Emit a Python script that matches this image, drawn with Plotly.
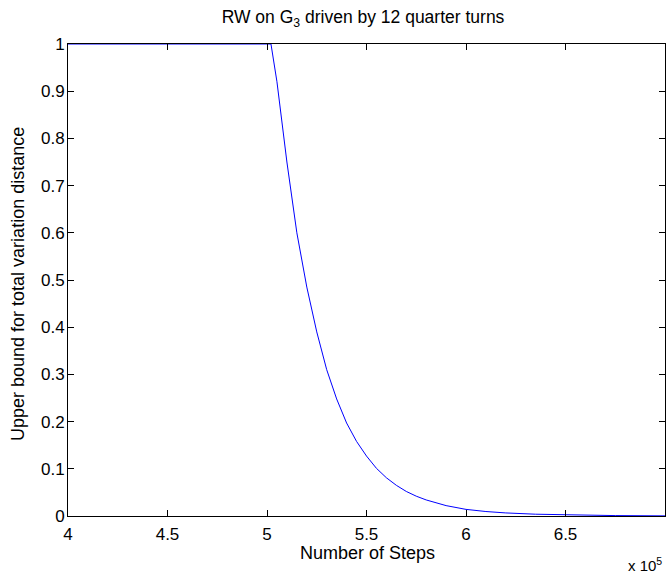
import plotly.graph_objects as go

# Data (steps, upper bound on total variation distance)
steps = [400000, 450000, 500000, 502000, 505000, 510000, 515000, 520000, 525000,
         530000, 535000, 540000, 545000, 550000, 555000, 560000, 565000, 570000,
         575000, 580000, 590000, 600000, 610000, 620000, 635000, 650000, 675000, 700000]
bound = [1.0, 1.0, 1.0, 1.0, 0.92, 0.75, 0.60, 0.485, 0.39,
         0.31, 0.248, 0.197, 0.158, 0.127, 0.101, 0.081, 0.065, 0.052,
         0.042, 0.034, 0.022, 0.014, 0.0095, 0.0065, 0.0038, 0.0022, 0.0009, 0.0003]

x_tickvals = [400000, 450000, 500000, 550000, 600000, 650000, 700000]
x_ticktext = ["4", "4.5", "5", "5.5", "6", "6.5", "7"]
y_tickvals = [0, 0.1, 0.2, 0.3, 0.4, 0.5, 0.6, 0.7, 0.8, 0.9, 1]
y_ticktext = ["0", "0.1", "0.2", "0.3", "0.4", "0.5", "0.6", "0.7", "0.8", "0.9", "1"]

FONT = "Liberation Sans, Arial, sans-serif"
FS = 17
W, H = 666, 573
L, R, T, B = 68, 1, 44, 57

fig = go.Figure()
fig.add_trace(go.Scatter(x=steps, y=bound, mode="lines",
                         line=dict(color="#0000ff", width=1),
                         showlegend=False, hoverinfo="skip"))

axis_common = dict(showgrid=False, zeroline=False, showline=True, linecolor="black",
                   linewidth=1, mirror="ticks", ticks="inside", ticklen=6,
                   tickcolor="black", tickfont=dict(family=FONT, size=FS, color="black"))

fig.update_layout(
    width=W, height=H,
    margin=dict(l=L, r=R, t=T, b=B),
    paper_bgcolor="white", plot_bgcolor="white",
    font=dict(family=FONT, color="black"),
    title=dict(text="RW on G<sub>3</sub> driven by 12 quarter turns",
               x=363 / W, xanchor="center", y=1 - 17 / H, yanchor="middle",
               font=dict(family=FONT, size=17.5, color="black")),
    xaxis=dict(range=[400000, 700000], tickvals=x_tickvals, ticktext=x_ticktext,
               ticklabelstandoff=3, **axis_common),
    yaxis=dict(range=[0, 1], tickvals=y_tickvals, ticktext=y_ticktext,
               ticklabelstandoff=-1, **axis_common),
)

# axis titles placed in paper pixel coordinates
pw = W - L - R
ph = H - T - B
fig.add_annotation(text="Number of Steps", xref="paper", yref="paper",
                   x=(367 - L) / pw, y=-(553 - (H - B)) / ph,
                   xanchor="center", yanchor="middle", showarrow=False,
                   font=dict(family=FONT, size=18, color="black"))
fig.add_annotation(text="Upper bound for total variation distance", xref="paper", yref="paper",
                   x=-(L - 18) / pw, y=(516 - 284) / ph, textangle=-90,
                   xanchor="center", yanchor="middle", showarrow=False,
                   font=dict(family=FONT, size=18, color="black"))
fig.add_annotation(text="x 10<sup>5</sup>", xref="paper", yref="paper",
                   x=(664 - L) / pw, y=-(564 - (H - B)) / ph,
                   xanchor="right", yanchor="middle", showarrow=False,
                   font=dict(family=FONT, size=15, color="black"))

fig.write_html("out.html")
